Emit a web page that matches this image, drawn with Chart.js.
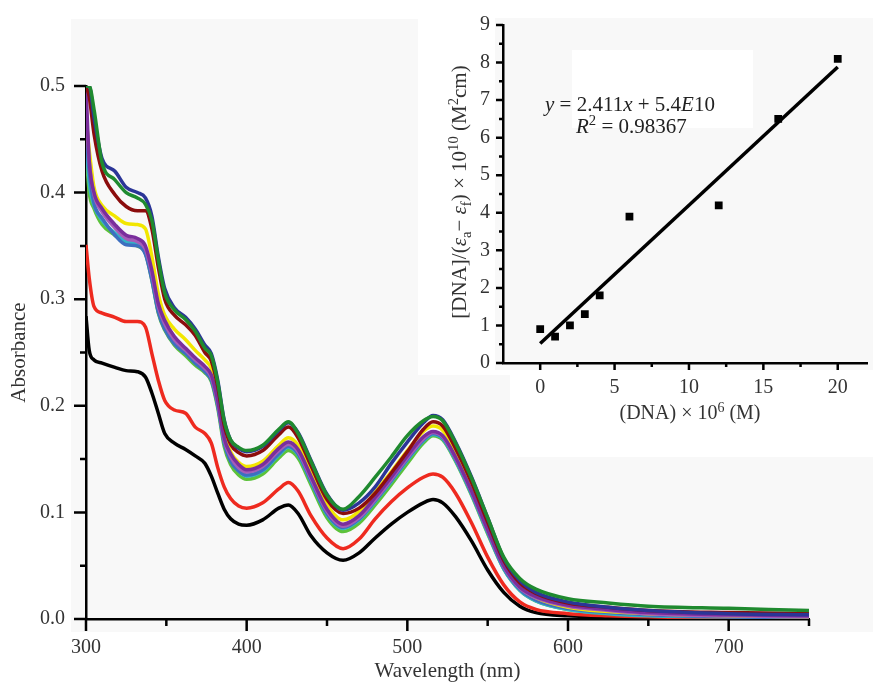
<!DOCTYPE html>
<html>
<head>
<meta charset="utf-8">
<script src="https://cdn.jsdelivr.net/npm/chart.js@4.4.0/dist/chart.umd.min.js"></script>
<style>
  html, body { margin: 0; padding: 0; background: #fff; }
  #wrap { position: relative; width: 873px; height: 688px; }
  #main { position: absolute; left: 0; top: 0; }
  #inset { position: absolute; left: 418px; top: 0; }
</style>
</head>
<body>
<div id="wrap">
  <canvas id="main" width="873" height="688"></canvas>
  <canvas id="inset" width="455" height="457"></canvas>
</div>
<script>
// ---- main spectra: wavelength (nm) and absorbance ----
const wavelengths = [300, 302, 305, 310, 318, 325, 332, 337, 341, 345, 349, 355, 362, 368, 374, 378, 382, 386, 390, 395,
  400, 410, 420, 426, 432, 440, 450, 460, 470, 480, 490, 500, 510, 516, 522, 530, 540, 550, 560, 570,
  580, 600, 625, 650, 700, 750];

const absBlack = [0.284, 0.252, 0.243, 0.240, 0.236, 0.233, 0.232, 0.227, 0.212, 0.193, 0.174, 0.165, 0.159, 0.153, 0.146, 0.134, 0.118, 0.103, 0.094, 0.089,
  0.088, 0.093, 0.104, 0.107, 0.099, 0.078, 0.062, 0.055, 0.062, 0.076, 0.089, 0.100, 0.109, 0.112, 0.109, 0.096, 0.073, 0.046, 0.025, 0.012,
  0.006, 0.003, 0.002, 0.001, 0.001, 0.000];
const absRed = [0.351, 0.320, 0.293, 0.287, 0.283, 0.279, 0.279, 0.274, 0.249, 0.224, 0.205, 0.196, 0.193, 0.180, 0.174, 0.165, 0.142, 0.124, 0.113, 0.106,
  0.104, 0.109, 0.122, 0.128, 0.120, 0.097, 0.076, 0.066, 0.075, 0.094, 0.110, 0.123, 0.133, 0.136, 0.133, 0.118, 0.090, 0.058, 0.032, 0.016,
  0.009, 0.005, 0.003, 0.002, 0.001, 0.001];
const absLime = [0.440, 0.400, 0.385, 0.370, 0.360, 0.353, 0.350, 0.343, 0.318, 0.287, 0.271, 0.257, 0.247, 0.238, 0.231, 0.223, 0.198, 0.162, 0.145, 0.135,
  0.131, 0.136, 0.151, 0.158, 0.151, 0.126, 0.095, 0.082, 0.090, 0.107, 0.126, 0.146, 0.165, 0.172, 0.168, 0.148, 0.116, 0.080, 0.047, 0.027,
  0.017, 0.009, 0.006, 0.004, 0.003, 0.002];
const absCyan = [0.450, 0.410, 0.388, 0.374, 0.362, 0.354, 0.352, 0.344, 0.320, 0.289, 0.273, 0.259, 0.250, 0.241, 0.233, 0.225, 0.201, 0.166, 0.149, 0.139,
  0.134, 0.139, 0.154, 0.161, 0.154, 0.129, 0.098, 0.085, 0.093, 0.110, 0.129, 0.149, 0.167, 0.173, 0.169, 0.149, 0.117, 0.081, 0.047, 0.027,
  0.017, 0.009, 0.005, 0.003, 0.002, 0.001];
const absSteel = [0.460, 0.420, 0.390, 0.376, 0.360, 0.351, 0.350, 0.342, 0.318, 0.288, 0.272, 0.258, 0.249, 0.240, 0.232, 0.224, 0.200, 0.165, 0.148, 0.139,
  0.135, 0.140, 0.155, 0.162, 0.155, 0.130, 0.099, 0.086, 0.094, 0.111, 0.130, 0.150, 0.168, 0.174, 0.170, 0.150, 0.118, 0.082, 0.048, 0.028,
  0.018, 0.010, 0.006, 0.004, 0.002, 0.001];
const absYellow = [0.470, 0.440, 0.405, 0.388, 0.378, 0.371, 0.370, 0.366, 0.340, 0.305, 0.285, 0.272, 0.262, 0.252, 0.243, 0.235, 0.212, 0.176, 0.157, 0.147,
  0.143, 0.148, 0.163, 0.170, 0.163, 0.138, 0.107, 0.093, 0.101, 0.119, 0.138, 0.158, 0.176, 0.181, 0.177, 0.157, 0.124, 0.087, 0.051, 0.030,
  0.020, 0.011, 0.007, 0.005, 0.003, 0.002];
const absOrchid = [0.480, 0.430, 0.398, 0.382, 0.367, 0.357, 0.354, 0.347, 0.324, 0.293, 0.277, 0.262, 0.252, 0.243, 0.235, 0.227, 0.203, 0.168, 0.152, 0.142,
  0.138, 0.143, 0.158, 0.164, 0.157, 0.132, 0.101, 0.087, 0.095, 0.112, 0.131, 0.151, 0.169, 0.175, 0.171, 0.151, 0.119, 0.083, 0.049, 0.029,
  0.020, 0.012, 0.008, 0.005, 0.003, 0.002];
const absPurple = [0.500, 0.430, 0.400, 0.385, 0.370, 0.360, 0.357, 0.350, 0.327, 0.296, 0.280, 0.265, 0.254, 0.245, 0.237, 0.229, 0.205, 0.170, 0.155, 0.145,
  0.140, 0.145, 0.160, 0.166, 0.159, 0.134, 0.103, 0.089, 0.097, 0.114, 0.133, 0.153, 0.171, 0.176, 0.172, 0.152, 0.120, 0.084, 0.050, 0.030,
  0.021, 0.013, 0.009, 0.006, 0.004, 0.003];
const absMaroon = [0.500, 0.490, 0.455, 0.420, 0.398, 0.387, 0.383, 0.383, 0.366, 0.330, 0.300, 0.285, 0.276, 0.266, 0.250, 0.242, 0.218, 0.182, 0.164, 0.156,
  0.153, 0.158, 0.173, 0.180, 0.170, 0.144, 0.112, 0.099, 0.104, 0.118, 0.137, 0.157, 0.178, 0.185, 0.181, 0.160, 0.128, 0.091, 0.055, 0.034,
  0.024, 0.015, 0.011, 0.008, 0.006, 0.005];
const absNavy = [0.500, 0.500, 0.470, 0.432, 0.420, 0.405, 0.400, 0.395, 0.378, 0.340, 0.310, 0.292, 0.283, 0.272, 0.257, 0.249, 0.224, 0.187, 0.168, 0.160,
  0.157, 0.162, 0.177, 0.184, 0.175, 0.149, 0.117, 0.102, 0.109, 0.124, 0.146, 0.166, 0.184, 0.191, 0.187, 0.166, 0.133, 0.095, 0.057, 0.036,
  0.025, 0.016, 0.011, 0.008, 0.005, 0.004];
const absGreen = [0.500, 0.500, 0.478, 0.428, 0.412, 0.400, 0.395, 0.389, 0.374, 0.337, 0.306, 0.290, 0.281, 0.270, 0.254, 0.247, 0.222, 0.186, 0.168, 0.161,
  0.158, 0.163, 0.178, 0.185, 0.174, 0.148, 0.116, 0.103, 0.115, 0.133, 0.152, 0.172, 0.186, 0.190, 0.186, 0.165, 0.132, 0.095, 0.058, 0.038,
  0.028, 0.019, 0.015, 0.012, 0.010, 0.008];

const xMajor = [300, 400, 500, 600, 700];
const xMinor = [350, 450, 550, 650, 750];
const yMajor = [0, 0.1, 0.2, 0.3, 0.4, 0.5];
const yMinor = [0.05, 0.15, 0.25, 0.35, 0.45];

// ---- inset: binding plot ----
const dnaConc = [0, 1, 2, 3, 4, 6, 12, 16, 20];
const dnaRatio = [0.9, 0.7, 1.0, 1.3, 1.8, 3.9, 4.2, 6.5, 8.1];
const fitX = [0, 20];
const fitY = [0.52, 7.88];
const insetXMajor = [0, 5, 10, 15, 20];
const insetXMinor = [2.5, 7.5, 12.5, 17.5];
const insetYMajor = [0, 1, 2, 3, 4, 5, 6, 7, 8, 9];
const insetYMinor = [0.5, 1.5, 2.5, 3.5, 4.5, 5.5, 6.5, 7.5, 8.5];

const serif = '"Liberation Serif", "DejaVu Serif", serif';
const ink = '#333';

// top-most first (Chart.js paints dataset 0 last)
const spectra = [
  [absGreen, '#1f8a2f'], [absNavy, '#2b3597'], [absMaroon, '#8b0d0d'],
  [absPurple, '#7a2e9c'], [absOrchid, '#a65cb8'], [absYellow, '#f2e600'],
  [absSteel, '#3d6fc0'], [absCyan, '#33b3c6'], [absLime, '#5cc23a'],
  [absRed, '#ee2a1f'], [absBlack, '#000000']
];

function drawTicks(chart, id, values, len) {
  const s = chart.scales[id], a = chart.chartArea, ctx = chart.ctx;
  ctx.save();
  ctx.strokeStyle = '#000';
  ctx.lineWidth = 2.5;
  ctx.beginPath();
  values.forEach(v => {
    const p = s.getPixelForValue(v);
    if (s.isHorizontal()) { ctx.moveTo(p, a.bottom); ctx.lineTo(p, a.bottom + len); }
    else { ctx.moveTo(a.left, p); ctx.lineTo(a.left - len, p); }
  });
  ctx.stroke();
  ctx.restore();
}

// text with italic / super / subscript pieces
function drawRich(ctx, runs, x, y, size, align) {
  const font = r => (r.it ? 'italic ' : '') + ((r.sup || r.sub) ? size * 0.7 : size) + 'px ' + serif;
  let w = 0;
  runs.forEach(r => { ctx.font = font(r); w += ctx.measureText(r.t).width; });
  let cx = align === 'center' ? x - w / 2 : x;
  ctx.textAlign = 'left';
  ctx.textBaseline = 'alphabetic';
  runs.forEach(r => {
    ctx.font = font(r);
    const dy = r.sup ? -size * 0.36 : r.sub ? size * 0.22 : 0;
    ctx.fillText(r.t, cx, y + dy);
    cx += ctx.measureText(r.t).width;
  });
}

const hiddenGrid = { display: true, color: 'rgba(0,0,0,0)', drawTicks: false, drawOnChartArea: false };

new Chart(document.getElementById('main'), {
  type: 'line',
  data: {
    datasets: spectra.map(([vals, col]) => ({
      data: wavelengths.map((w, i) => ({ x: w, y: vals[i] })),
      borderColor: col,
      borderWidth: 3.5,
      pointRadius: 0,
      cubicInterpolationMode: 'monotone',
      fill: false
    }))
  },
  options: {
    responsive: false,
    animation: false,
    layout: { padding: { left: 0, right: 64, top: 86, bottom: 0 } },
    plugins: { legend: { display: false }, tooltip: { enabled: false } },
    scales: {
      x: {
        type: 'linear', min: 300, max: 750,
        afterBuildTicks: s => { s.ticks = xMajor.map(v => ({ value: v })); },
        afterFit: s => { s.height = 69; },
        ticks: { font: { family: serif, size: 20 }, color: ink, padding: 17, maxRotation: 0, autoSkip: false },
        grid: hiddenGrid,
        border: { color: '#000', width: 2.5 },
        title: { display: true, text: 'Wavelength (nm)', color: ink, font: { family: serif, size: 21 }, padding: { top: 0, bottom: 4 } }
      },
      y: {
        min: 0, max: 0.5,
        afterBuildTicks: s => { s.ticks = yMajor.map(v => ({ value: v })); },
        afterFit: s => { s.width = 86; },
        ticks: { font: { family: serif, size: 20 }, color: ink, padding: 21, callback: v => v.toFixed(1) },
        grid: hiddenGrid,
        border: { color: '#000', width: 2.5 },
        title: { display: true, text: 'Absorbance', color: ink, font: { family: serif, size: 21 }, padding: { top: 7, bottom: 0 } }
      }
    }
  },
  plugins: [{
    id: 'mainDecor',
    beforeDraw(chart) {
      const ctx = chart.ctx;
      ctx.save();
      ctx.fillStyle = '#fff';
      ctx.fillRect(0, 0, 873, 688);
      ctx.fillStyle = '#f8f8f8';
      ctx.fillRect(71, 19, 802, 613);
      ctx.fillStyle = '#fff';
      ctx.fillRect(418, 0, 455, 375);
      ctx.fillRect(510, 375, 363, 82);
      ctx.restore();
    },
    afterDraw(chart) {
      drawTicks(chart, 'x', xMajor, 12);
      drawTicks(chart, 'x', xMinor, 7);
      drawTicks(chart, 'y', yMajor, 12);
      drawTicks(chart, 'y', yMinor, 6);
    }
  }]
});

new Chart(document.getElementById('inset'), {
  type: 'scatter',
  data: {
    datasets: [
      {
        data: dnaConc.map((c, i) => ({ x: c, y: dnaRatio[i] })),
        pointStyle: 'rect', pointRadius: 5.5, backgroundColor: '#000', borderWidth: 0
      },
      {
        type: 'line',
        data: fitX.map((c, i) => ({ x: c, y: fitY[i] })),
        borderColor: '#000', borderWidth: 3.5, pointRadius: 0, showLine: true
      }
    ]
  },
  options: {
    responsive: false,
    animation: false,
    layout: { padding: { left: 0, right: 0, top: 23, bottom: 0 } },
    plugins: { legend: { display: false }, tooltip: { enabled: false } },
    scales: {
      x: {
        type: 'linear', min: -2.5, max: 22,
        afterBuildTicks: s => { s.ticks = insetXMajor.map(v => ({ value: v })); },
        afterFit: s => { s.height = 94; },
        ticks: { font: { family: serif, size: 20 }, color: ink, padding: 13, maxRotation: 0, autoSkip: false },
        grid: hiddenGrid,
        border: { color: '#000', width: 2.5 }
      },
      y: {
        min: 0, max: 9,
        afterBuildTicks: s => { s.ticks = insetYMajor.map(v => ({ value: v })); },
        afterFit: s => { s.width = 85; },
        ticks: { font: { family: serif, size: 20 }, color: ink, padding: 13 },
        grid: hiddenGrid,
        border: { color: '#000', width: 2.5 }
      }
    }
  },
  plugins: [{
    id: 'insetDecor',
    beforeDraw(chart) {
      const ctx = chart.ctx;
      ctx.save();
      ctx.fillStyle = '#f8f8f8';
      ctx.fillRect(77, 18, 378, 352);
      ctx.fillStyle = '#fff';
      ctx.fillRect(154, 50, 181, 78);
      ctx.restore();
    },
    afterDraw(chart) {
      drawTicks(chart, 'x', insetXMajor, 7);
      drawTicks(chart, 'x', insetXMinor, 4);
      drawTicks(chart, 'y', insetYMajor, 7);
      drawTicks(chart, 'y', insetYMinor, 4);
      const ctx = chart.ctx;
      ctx.save();
      ctx.fillStyle = '#222';
      drawRich(ctx, [{ t: 'y', it: true }, { t: ' = 2.411' }, { t: 'x', it: true }, { t: ' + 5.4' }, { t: 'E', it: true }, { t: '10' }], 127, 111, 21, 'left');
      drawRich(ctx, [{ t: 'R', it: true }, { t: '2', sup: true }, { t: ' = 0.98367' }], 158, 133, 21, 'left');
      ctx.fillStyle = ink;
      drawRich(ctx, [{ t: '(DNA) × 10' }, { t: '6', sup: true }, { t: ' (M)' }], 272, 419, 20, 'center');
      ctx.translate(48, 192);
      ctx.rotate(-Math.PI / 2);
      drawRich(ctx, [{ t: '[DNA]/(' }, { t: 'ε', it: true }, { t: 'a', sub: true }, { t: '− ' }, { t: 'ε', it: true }, { t: 'f', sub: true },
        { t: ') × 10' }, { t: '10', sup: true }, { t: ' (M' }, { t: '2', sup: true }, { t: 'cm)' }], 0, 0, 21, 'center');
      ctx.restore();
    }
  }]
});
</script>
</body>
</html>
